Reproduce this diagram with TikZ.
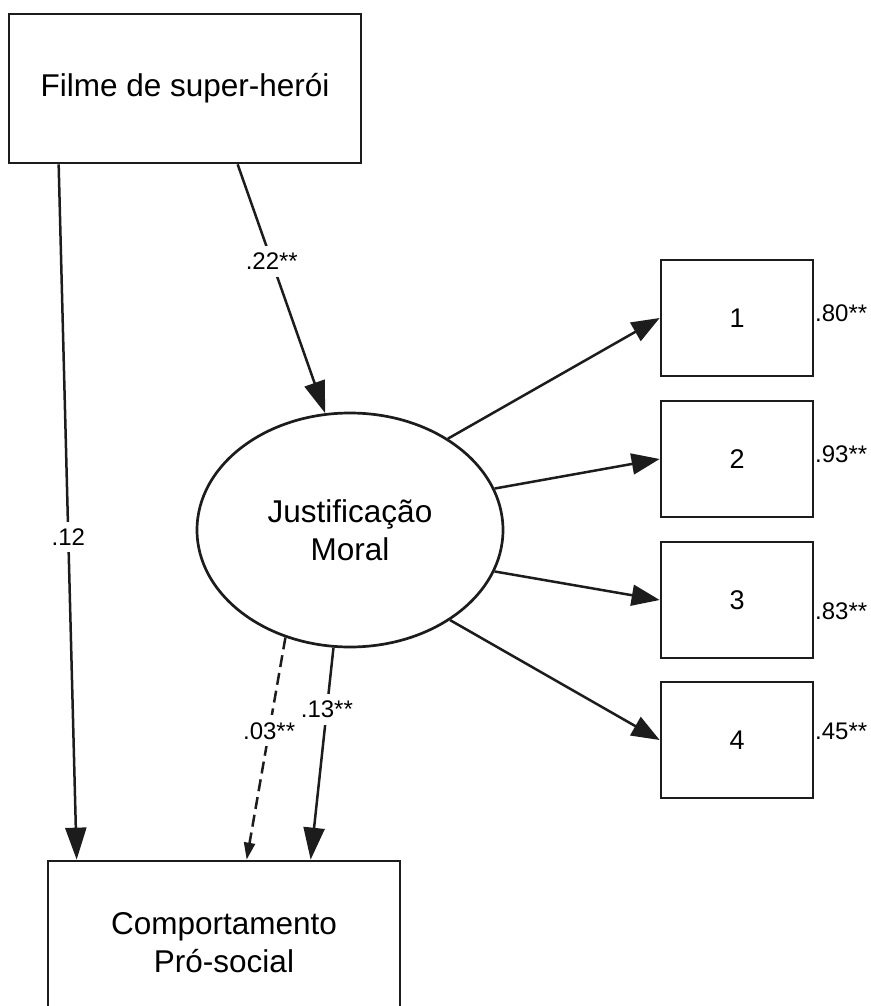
\documentclass[tikz,border=0pt]{standalone}
\usepackage{fontspec}
\setmainfont{Liberation Sans}
\usetikzlibrary{arrows.meta,shapes.geometric}
\definecolor{ink}{HTML}{1C1C1C}
\begin{document}
\begin{tikzpicture}[x=1pt,y=-1pt,
  stroke/.style={draw=ink, line width=2.7pt},
  varbox/.style={stroke, rectangle, inner sep=0pt, align=center,
                 font=\fontsize{31.5}{38}\selectfont},
  itembox/.style={stroke, rectangle, minimum width=152pt, minimum height=116pt,
                  inner sep=0pt, font=\fontsize{27}{32}\selectfont},
  coef/.style={font=\fontsize{24}{28}\selectfont, inner xsep=2pt, inner ysep=7pt},
  onpath/.style={coef, fill=white},
  link/.style={stroke, line width=2.5pt, -{Triangle[length=32pt,width=21pt]}},
  weak/.style={stroke, line width=2.5pt, dash pattern=on 12pt off 6pt,
               -{Triangle[length=17pt,width=11pt]}}
]
\useasboundingbox (0,0) rectangle (870,1006);

% latent variable and observed variables
\node[varbox, minimum width=352pt, minimum height=149pt] (F) at (185,88.5) {Filme de super-herói};
\node[varbox, ellipse, minimum width=306pt, minimum height=234pt] (J) at (350,530) {Justificação\\Moral};
\node[varbox, minimum width=352pt, minimum height=164pt] (C) at (224,943) {Comportamento\\Pró-social};

\node[itembox] (b1) at (737,318) {1};
\node[itembox] (b2) at (737,459) {2};
\node[itembox] (b3) at (737,600) {3};
\node[itembox] (b4) at (737,740) {4};

% factor loadings
\node[coef, anchor=west, inner xsep=0pt] (l1) at (815,313) {.80**};
\node[coef, anchor=west, inner xsep=0pt] (l2) at (815,454) {.93**};
\node[coef, anchor=west, inner xsep=0pt] (l3) at (815,611) {.83**};
\node[coef, anchor=west, inner xsep=0pt] (l4) at (815,731) {.45**};

% structural paths
\draw[link] ([xshift=51pt]F.south west) -- node[onpath, pos=0.536] {.12} ([xshift=30pt]C.north west);
\draw[link] ([xshift=230pt]F.south west) -- node[onpath, pos=0.39] {.22**} (J.102);
\draw[link] (J.-98.4) -- node[onpath, pos=0.29] {.13**} ([xshift=264pt]C.north west);
\draw[weak] (J.-121.4) -- node[onpath, pos=0.42] {.03**} ([xshift=200pt]C.north west);

% measurement paths
\draw[link, -{Triangle[length=28pt,width=21pt]}] (J.43.8) -- (b1.west);
\draw[link, -{Triangle[length=28pt,width=21pt]}] (J.16.5) -- (b2.west);
\draw[link, -{Triangle[length=28pt,width=21pt]}] (J.-16.1) -- (b3.west);
\draw[link, -{Triangle[length=28pt,width=21pt]}] (J.-42.9) -- (b4.west);
\end{tikzpicture}
\end{document}
